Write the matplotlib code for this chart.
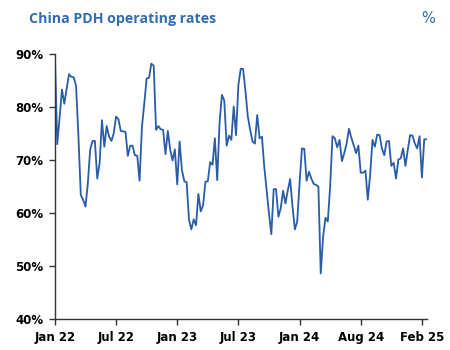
import matplotlib
matplotlib.use("Agg")
import matplotlib.pyplot as plt

# weekly operating rate, %, Jan 22 -> Feb 25
rates_22h1 = [89.8, 73.0, 78.0, 83.3, 80.6, 83.5, 86.2, 85.7, 85.6, 84.0,
              74.5, 63.4, 62.5, 61.2, 65.6, 72.0, 73.6, 73.6, 66.5, 69.4,
              77.5, 72.5, 76.4, 74.5, 73.6, 75.0, 78.2]
rates_22h2 = [77.7, 75.5, 75.4, 75.3, 70.8, 72.7, 72.7, 70.9, 70.8, 66.1,
              76.3, 80.7, 85.4, 85.5, 88.2, 87.8, 75.7, 76.4, 75.8, 75.7,
              71.1, 75.5, 72.0, 69.9, 72.0, 65.4]
rates_23h1 = [73.5, 68.1, 66.0, 65.8, 58.7, 56.9, 58.8, 57.7, 63.6, 60.3,
              61.5, 65.9, 66.0, 69.6, 69.1, 74.1, 66.2, 77.1, 82.3, 81.2,
              72.7, 74.6, 73.8, 80.1, 74.7, 84.2]
rates_23h2 = [87.2, 87.2, 83.0, 78.2, 75.7, 73.5, 73.1, 78.5, 74.1, 74.4,
              68.7, 64.3, 59.9, 56.0, 64.5, 64.5, 59.3, 60.9, 64.2, 61.8,
              64.3, 66.4, 61.2, 56.9, 58.4, 65.6]
rates_24h1 = [72.2, 72.1, 66.1, 67.8, 66.5, 65.5, 65.3, 65.0, 48.6,
              55.5, 59.1, 58.4, 65.0, 74.5, 74.1, 72.4, 73.8, 69.8, 71.3,
              73.1, 75.9, 74.2, 72.8, 71.3, 72.7, 67.6]
rates_24h2 = [67.6, 68.0, 62.5, 67.2, 73.8, 72.5, 74.8, 74.7, 72.2, 70.9,
              73.5, 73.6, 68.9, 69.5, 66.5, 70.1, 70.3, 72.2, 68.9, 71.9,
              74.7, 74.6, 73.1, 72.2, 74.5, 66.7, 73.9, 73.9]

rates = rates_22h1 + rates_22h2 + rates_23h1 + rates_23h2 + rates_24h1 + rates_24h2
weeks = list(range(len(rates)))

tick_weeks = [0, 26, 52, 78, 104, 130, 156]
tick_labels = ["Jan 22", "Jul 22", "Jan 23", "Jul 23", "Jan 24", "Aug 24", "Feb 25"]
y_ticks = [40, 50, 60, 70, 80, 90]

blue = "#2e6db4"

fig = plt.figure(figsize=(4.5, 3.5), dpi=100)
ax = fig.add_axes([0.122, 0.0886, 0.826, 0.757])

ax.plot(weeks, rates, color="#2a5ca8", linewidth=1.3)

ax.set_xlim(0, len(rates) - 1)
ax.set_ylim(40, 90)
ax.set_yticks(y_ticks)
ax.set_yticklabels([f"{v}%" for v in y_ticks])
ax.set_xticks(tick_weeks)
ax.set_xticklabels(tick_labels)

for side in ["top", "right"]:
    ax.spines[side].set_visible(False)
for side in ["left", "bottom"]:
    ax.spines[side].set_color("#333333")
    ax.spines[side].set_linewidth(1.0)

ax.tick_params(axis="both", length=4, width=1, color="#333333",
               labelsize=8.5, pad=4.5)
for lab in ax.get_xticklabels() + ax.get_yticklabels():
    lab.set_fontweight("bold")

fig.text(0.064, 0.947, "China PDH operating rates", color=blue,
         fontsize=10.2, fontweight="bold", family="Open Sans", va="center")
fig.text(0.967, 0.947, "%", color=blue, fontsize=10.5, va="center", ha="right")

fig.savefig("out.png", dpi=100)
